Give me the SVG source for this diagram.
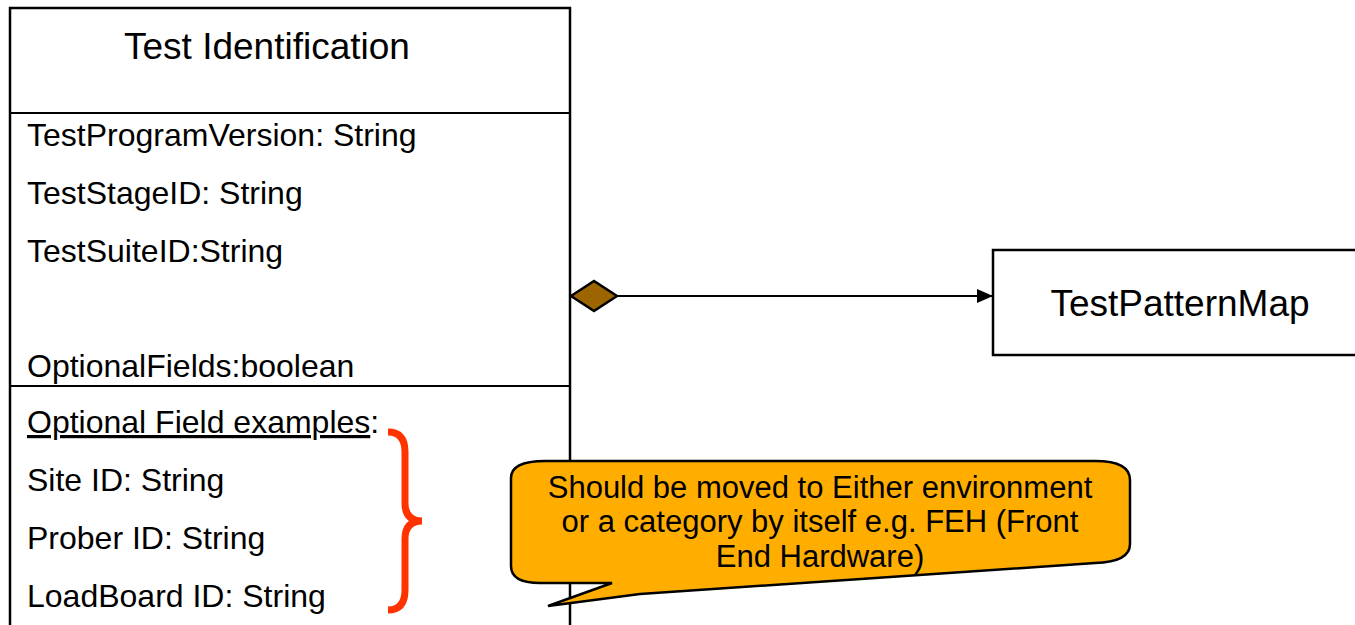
<svg xmlns="http://www.w3.org/2000/svg" width="1355" height="625" viewBox="0 0 1355 625">
  <defs>
    <style>
      .box { fill: #ffffff; stroke: #000000; stroke-width: 2.5; }
      .div { stroke: #000000; stroke-width: 2; }
      .t { font-family: "Liberation Sans", Arial, sans-serif; fill: #000000; }
      .attr { font-size: 32px; }
      .title { font-size: 37px; text-anchor: middle; }
      .note { font-size: 31px; text-anchor: middle; }
      .conn { stroke: #000000; stroke-width: 2; fill: none; }
    </style>
    <marker id="arrow" viewBox="0 0 16 14" refX="16" refY="7" markerWidth="16" markerHeight="14" markerUnits="userSpaceOnUse" orient="auto">
      <path d="M0,0 L16,7 L0,14 Z" fill="#000000"/>
    </marker>
  </defs>
  <rect width="1355" height="625" fill="#ffffff"/>

  <g id="test-identification">
    <rect class="box" x="10" y="8" width="560" height="640"/>
    <line class="div" x1="10" y1="113" x2="570" y2="113"/>
    <line class="div" x1="10" y1="386" x2="570" y2="386"/>
    <text class="t title" x="267" y="59">Test Identification</text>
    <text class="t attr" x="27" y="146">TestProgramVersion: String</text>
    <text class="t attr" x="27" y="204">TestStageID: String</text>
    <text class="t attr" x="27" y="262">TestSuiteID:String</text>
    <text class="t attr" x="27" y="377">OptionalFields:boolean</text>
    <text class="t attr" x="27" y="433"><tspan text-decoration="underline">Optional Field examples</tspan>:</text>
    <text class="t attr" x="27" y="491">Site ID: String</text>
    <text class="t attr" x="27" y="549">Prober ID: String</text>
    <text class="t attr" x="27" y="607">LoadBoard ID: String</text>
  </g>

  <g id="test-pattern-map">
    <rect class="box" x="993" y="250" width="380" height="105"/>
    <text class="t title" x="1180" y="316">TestPatternMap</text>
  </g>

  <g id="connectors">
    <line class="conn" x1="616" y1="296" x2="993" y2="296" marker-end="url(#arrow)"/>
    <path d="M571,296 L594,281 L617,296 L594,311 Z" fill="#9C6500" stroke="#000000" stroke-width="2.5" stroke-linejoin="miter"/>
  </g>

  <g id="brace">
    <path d="M388,432 Q405,432 405,452 L405,503 Q405,521 422,521 Q405,521 405,539 L405,590 Q405,610 388,610" fill="none" stroke="#FF3300" stroke-width="7" stroke-linecap="butt"/>
  </g>

  <g id="callout">
    <path d="M548,606 L612,583 L540,583 Q511,583 511,566 L511,478 Q511,461 545,461 L1095,461 Q1130,461 1130,480 L1130,544 Q1130,562 1095,563 L640,594 Z" fill="#FFAE00" stroke="#000000" stroke-width="2.5" stroke-linejoin="miter"/>
    <text class="t note" x="820" y="497.5">Should be moved to Either environment<tspan x="820" dy="34.7">or a category by itself e.g. FEH (Front</tspan><tspan x="820" dy="34.7">End Hardware)</tspan></text>
  </g>
</svg>
